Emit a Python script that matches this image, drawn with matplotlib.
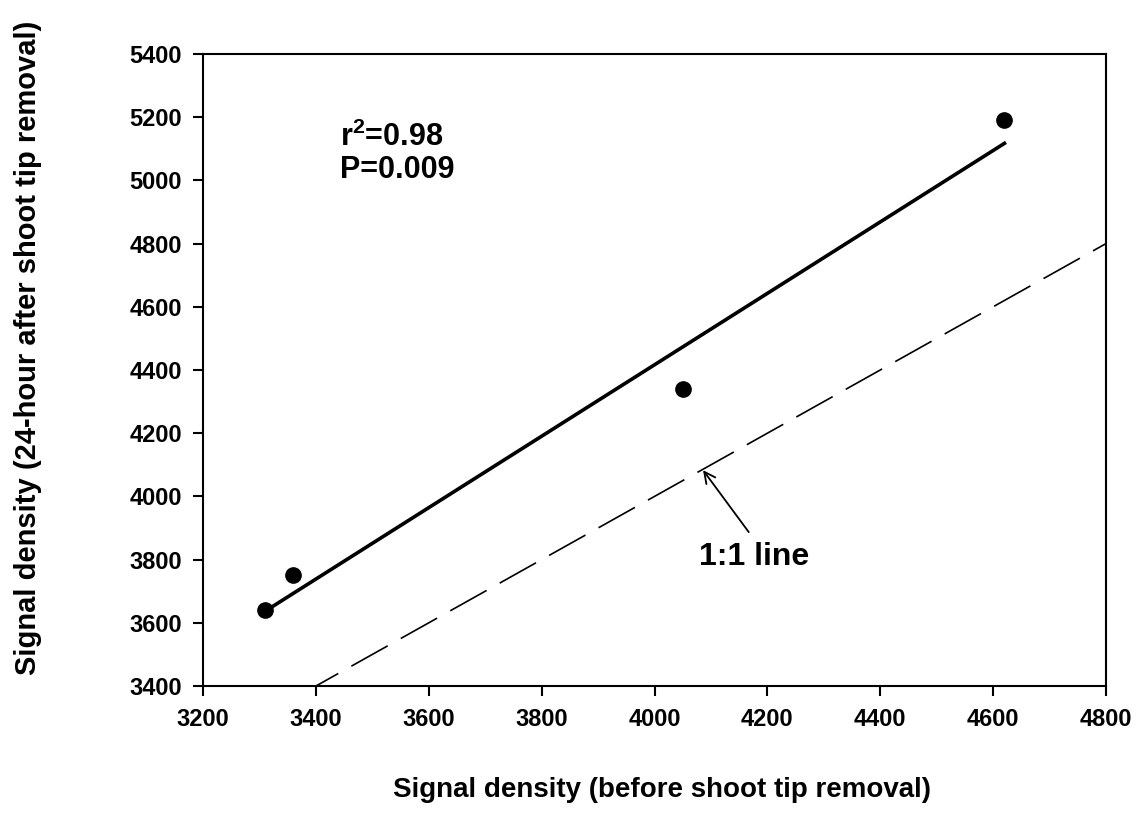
import numpy as np
import matplotlib
matplotlib.use("Agg")
import matplotlib.pyplot as plt

plt.rcParams['font.family'] = ['Liberation Sans', 'DejaVu Sans']
plt.rcParams['font.weight'] = 'bold'
plt.rcParams['mathtext.fontset'] = 'custom'
plt.rcParams['mathtext.bf'] = 'Liberation Sans:bold'

# measured signal densities
before = [3310, 3360, 4050, 4620]
after = [3640, 3750, 4340, 5190]

xticks = [3200, 3400, 3600, 3800, 4000, 4200, 4400, 4600, 4800]
yticks = [3400, 3600, 3800, 4000, 4200, 4400, 4600, 4800, 5000, 5200, 5400]

fig = plt.figure(figsize=(11.38, 8.35), dpi=100)
ax = fig.add_axes([0.1784, 0.1784, 0.7935, 0.757])

# regression line over the data range
slope, icpt = np.polyfit(before, after, 1)
xs = np.array([min(before), max(before)])
ax.plot(xs, slope * xs + icpt, color='black', lw=2.6, zorder=3)

# 1:1 line
one = np.array([3200, 4800])
l11, = ax.plot(one, one, color='black', lw=1.2, zorder=2)
l11.set_dashes((25, 9))

ax.plot(before, after, 'o', color='black', ms=11, zorder=4)

ax.set_xlim(3200, 4800)
ax.set_ylim(3400, 5400)
ax.set_xticks(xticks)
ax.set_yticks(yticks)
ax.tick_params(direction='out', length=7, width=1.5, labelsize=17,
               top=False, right=False)
ax.tick_params(axis='x', pad=9)
ax.tick_params(axis='y', pad=8)
for lab in ax.get_xticklabels() + ax.get_yticklabels():
    lab.set_fontweight('bold')
for sp in ax.spines.values():
    sp.set_linewidth(1.5)

ax.text(3443, 5137, r'r$^\mathbf{2}$=0.98', fontsize=22, fontweight='bold', va='center')
ax.text(3443, 5033, 'P=0.009', fontsize=22, fontweight='bold', va='center')

ax.annotate('', xy=(4086, 4083), xytext=(4167, 3887),
            arrowprops=dict(arrowstyle='->', color='black', lw=1.3,
                            mutation_scale=20, shrinkA=0, shrinkB=0))
ax.text(4176, 3808, '1:1 line', fontsize=23, fontweight='bold',
        ha='center', va='center')

fig.text(0.582, 0.054, 'Signal density (before shoot tip removal)',
         fontsize=20, fontweight='bold', ha='center', va='center')
fig.text(0.025, 0.583, 'Signal density (24-hour after shoot tip removal)',
         fontsize=21, fontweight='bold', ha='center', va='center', rotation=90)

fig.savefig('out.png', dpi=100)
